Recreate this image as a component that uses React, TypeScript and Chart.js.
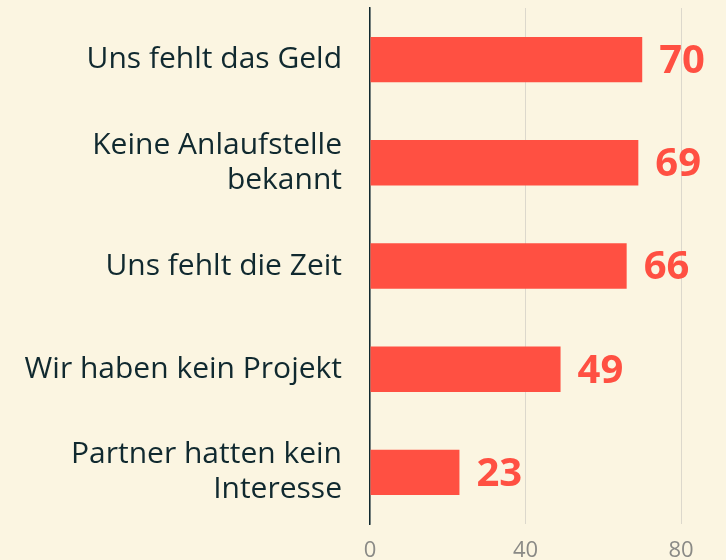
import React, { useEffect, useRef } from "react";
import { Chart, registerables } from "chart.js";

Chart.register(...registerables);

const categories: (string | string[])[] = [
  "Uns fehlt das Geld",
  ["Keine Anlaufstelle", "bekannt"],
  "Uns fehlt die Zeit",
  "Wir haben kein Projekt",
  ["Partner hatten kein", "Interesse"],
];
const values = [70, 69, 66, 49, 23];
const tickValues = [0, 40, 80];

const BG = "#fbf5e1";
const RED = "#ff5042";
const TEXT = "#10292f";

const valueLabels = {
  id: "valueLabels",
  afterDatasetsDraw(chart: any) {
    const ctx = chart.ctx;
    const meta = chart.getDatasetMeta(0);
    ctx.save();
    ctx.font = "bold 40px 'Open Sans'";
    ctx.fillStyle = RED;
    ctx.textAlign = "left";
    ctx.textBaseline = "middle";
    meta.data.forEach((bar: any, i: number) => {
      ctx.fillText(String(values[i]), bar.x + 17, bar.y + 2);
    });
    ctx.restore();
  },
};

const bgPlugin = {
  id: "bg",
  beforeDraw(chart: any) {
    const ctx = chart.ctx;
    ctx.save();
    ctx.fillStyle = BG;
    ctx.fillRect(0, 0, chart.width, chart.height);
    ctx.restore();
  },
};

export default function App() {
  const ref = useRef<HTMLCanvasElement>(null);
  useEffect(() => {
    if (!ref.current) return;
    const chart = new Chart(ref.current, {
      type: "bar",
      data: {
        labels: categories,
        datasets: [
          {
            data: values,
            backgroundColor: RED,
            barPercentage: 0.44,
            categoryPercentage: 1,
          },
        ],
      },
      options: {
        indexAxis: "y",
        animation: false,
        responsive: false,
        maintainAspectRatio: false,
        layout: { padding: { top: 8, right: 6, left: 0, bottom: 0 } },
        plugins: { legend: { display: false }, tooltip: { enabled: false } },
        scales: {
          x: {
            min: 0,
            max: 90,
            afterBuildTicks(scale: any) {
              scale.ticks = tickValues.map((v) => ({ value: v }));
            },
            afterFit(scale: any) {
              scale.height = 36;
              scale.paddingLeft = 0;
              scale.paddingRight = 0;
            },
            border: { display: false },
            grid: { color: "#dcd8cc", lineWidth: 1, drawTicks: false },
            ticks: {
              color: "#8a8a86",
              font: { family: "'Open Sans'", size: 22 },
              padding: 14,
            },
          },
          y: {
            afterFit(scale: any) {
              scale.width = 370;
              scale.paddingTop = 0;
              scale.paddingBottom = 0;
            },
            border: { display: true, color: TEXT, width: 1.5 },
            grid: { display: false, drawTicks: false },
            ticks: {
              color: TEXT,
              font: { family: "'Open Sans'", size: 30, lineHeight: 1.17 },
              padding: 28,
            },
          },
        },
      },
      plugins: [bgPlugin, valueLabels],
    });
    return () => chart.destroy();
  }, []);
  return (
    <div style={{ position: "fixed", left: 0, top: 0, width: 726, height: 560, background: BG }}>
      <canvas ref={ref} width={726} height={560} style={{ width: 726, height: 560 }} />
    </div>
  );
}
